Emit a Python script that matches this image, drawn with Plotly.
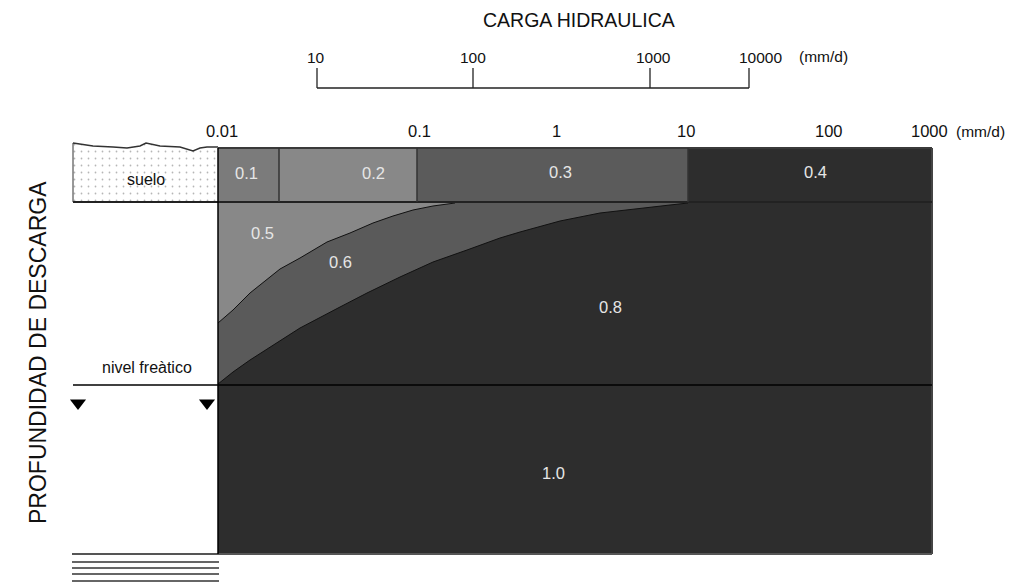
import plotly.graph_objects as go

# ---------------- data (diagram units = page pixels of the schematic) ----------------
TITLE_TOP = "CARGA HIDRAULICA"
TITLE_LEFT = "PROFUNDIDAD DE DESCARGA"
UNIT = "(mm/d)"

# upper hydraulic-load scale
UPPER_TICK_LABELS = ["10", "100", "1000", "10000"]
UPPER_TICK_X = [317, 473, 650, 749]
UPPER_LABEL_X = [316, 473, 653, 760]

# lower hydraulic-load scale
LOWER_TICK_LABELS = ["0.01", "0.1", "1", "10", "100", "1000"]
LOWER_TICK_X = [222, 419, 556, 686, 829, 929]

# soil-row zones (coefficients) and their boundaries
SOIL_ZONE_LABELS = ["0.1", "0.2", "0.3", "0.4"]
SOIL_ZONE_EDGES = [218, 279, 417, 688, 932]
SOIL_ZONE_COLORS = ["#7b7b7b", "#888888", "#5b5b5b", "#2d2d2d"]

# boundary between zones 0.5 and 0.6
CURVE_A_X = [218, 233, 250, 280, 300, 327, 350, 373, 393, 413, 433, 455]
CURVE_A_Y = [323, 310, 293, 269, 258, 242, 233, 223, 216, 210, 206, 203]

# boundary between zones 0.6 and 0.8
CURVE_B_X = [218, 233, 250, 267, 300, 340, 367, 400, 433, 467, 500, 520, 560, 600, 640, 670, 688]
CURVE_B_Y = [384, 372, 360, 349, 328, 307, 293, 277, 262, 250, 238, 232, 221, 213, 208, 205, 203]

# soil surface profile
SURFACE_X = [73, 80, 93, 113, 127, 140, 146, 160, 180, 193, 200, 207, 218]
SURFACE_Y = [143, 144, 146, 147, 148, 146, 143, 146, 147, 151, 148, 147, 147]

# zone labels
ZONE_LABELS = ["0.1", "0.2", "0.3", "0.4", "0.5", "0.6", "0.8", "1.0"]
ZONE_LABEL_X = [246, 373, 560, 815, 262, 340, 610, 553]
ZONE_LABEL_Y = [173, 173, 172, 172, 233, 262, 307, 473]

# geometry of the block
BOX_LEFT, BOX_RIGHT = 218, 932
BOX_TOP, SOIL_BOTTOM, WATER_TABLE, BOX_BOTTOM = 148, 202, 385, 554
SOIL_LEFT = 73
HATCH_Y = [562, 568, 574, 581]

FONT = "Arial, Liberation Sans, sans-serif"
DARK = "#2d2d2d"
MID = "#5a5a5a"
LIGHT = "#888888"
PAGE_OFFSET = 8  # default body margin of the html page

fig = go.Figure()

# deep zones (0.8 and 1.0)
fig.add_shape(type="rect", x0=BOX_LEFT, x1=BOX_RIGHT, y0=SOIL_BOTTOM, y1=BOX_BOTTOM,
              fillcolor=DARK, line_width=0, layer="below")

# soil-row zones
for i, c in enumerate(SOIL_ZONE_COLORS):
    fig.add_shape(type="rect", x0=SOIL_ZONE_EDGES[i], x1=SOIL_ZONE_EDGES[i + 1],
                  y0=BOX_TOP, y1=SOIL_BOTTOM, fillcolor=c, line_width=0, layer="below")

# zone 0.6 polygon
fig.add_trace(go.Scatter(
    x=CURVE_B_X + [CURVE_B_X[-1], BOX_LEFT], y=CURVE_B_Y + [SOIL_BOTTOM, SOIL_BOTTOM],
    fill="toself", fillcolor=MID, mode="lines", line=dict(width=0), hoverinfo="skip"))
# zone 0.5 polygon
fig.add_trace(go.Scatter(
    x=CURVE_A_X + [CURVE_A_X[-1], BOX_LEFT], y=CURVE_A_Y + [SOIL_BOTTOM, SOIL_BOTTOM],
    fill="toself", fillcolor=LIGHT, mode="lines", line=dict(width=0), hoverinfo="skip"))
# boundary curves
for cx, cy in [(CURVE_A_X, CURVE_A_Y), (CURVE_B_X, CURVE_B_Y)]:
    fig.add_trace(go.Scatter(x=cx, y=cy, mode="lines", line=dict(color="#111111", width=1),
                             hoverinfo="skip"))

# soil (suelo) dotted block
fig.add_trace(go.Scatter(
    x=SURFACE_X + [BOX_LEFT, SOIL_LEFT], y=SURFACE_Y + [SOIL_BOTTOM, SOIL_BOTTOM],
    fill="toself", fillcolor="white", mode="lines", line=dict(width=0), hoverinfo="skip",
    fillpattern=dict(shape=".", fgcolor="#6e6e6e", bgcolor="white", size=7, solidity=0.05)))
fig.add_trace(go.Scatter(x=SURFACE_X, y=SURFACE_Y, mode="lines",
                         line=dict(color="#333333", width=1.5), hoverinfo="skip"))

# water-table triangles
fig.add_trace(go.Scatter(x=[78, 207], y=[403, 403], mode="markers",
                         marker=dict(symbol="triangle-down", size=14, color="black"),
                         hoverinfo="skip"))

def hline(y, x0, x1, color, width):
    fig.add_shape(type="line", x0=x0, x1=x1, y0=y, y1=y, line=dict(color=color, width=width),
                  layer="above")

def vline(x, y0, y1, color, width):
    fig.add_shape(type="line", x0=x, x1=x, y0=y0, y1=y1, line=dict(color=color, width=width),
                  layer="above")

# borders
hline(BOX_TOP, BOX_LEFT, BOX_RIGHT, "#3a3a3a", 2)
vline(BOX_RIGHT, BOX_TOP, BOX_BOTTOM, "#444444", 2)
hline(BOX_BOTTOM, 72, BOX_RIGHT, "#555555", 2)
hline(SOIL_BOTTOM, SOIL_LEFT, BOX_RIGHT, "#222222", 2)
for xe in SOIL_ZONE_EDGES[1:-1]:
    vline(xe, BOX_TOP, SOIL_BOTTOM, "#333333", 1.5)
vline(BOX_LEFT, BOX_TOP, BOX_BOTTOM, "#000000", 1.5)
vline(SOIL_LEFT, SURFACE_Y[0], SOIL_BOTTOM, "#333333", 1)
hline(WATER_TABLE, SOIL_LEFT, BOX_RIGHT, "#000000", 1.5)
for yh in HATCH_Y:
    hline(yh, 72, 219, "#666666", 2)

# upper scale
hline(88, UPPER_TICK_X[0], UPPER_TICK_X[-1], "#222222", 1.3)
for xt in UPPER_TICK_X:
    vline(xt, 68, 88, "#222222", 1.3)

ann = []
def text(x, y, s, size, color="#111111", angle=0, xanchor="center"):
    ann.append(dict(x=x, y=y, xref="x", yref="y", text=s, showarrow=False, textangle=angle,
                    xanchor=xanchor, yanchor="middle",
                    font=dict(family=FONT, size=size, color=color)))

text(579, 20, TITLE_TOP, 19.5)
for lab, xt in zip(UPPER_TICK_LABELS, UPPER_LABEL_X):
    text(xt, 57, lab, 15.5)
text(797, 56, UNIT, 15.5, xanchor="left")
for lab, xt in zip(LOWER_TICK_LABELS, LOWER_TICK_X):
    text(xt, 131, lab, 16.5)
text(954, 131, UNIT, 15.5, xanchor="left")
for lab, xl, yl in zip(ZONE_LABELS, ZONE_LABEL_X, ZONE_LABEL_Y):
    text(xl, yl, lab, 16.5, color="#e6e6e6")
text(146, 179, "suelo", 16)
text(147, 367, "nivel freàtico", 16)
text(38, 353, TITLE_LEFT, 23, angle=-90)

W, H = 1015, 583
fig.update_layout(
    width=W, height=H, margin=dict(l=0, r=0, t=0, b=0),
    paper_bgcolor="white", plot_bgcolor="white", showlegend=False,
    annotations=ann,
    xaxis=dict(range=[PAGE_OFFSET, W + PAGE_OFFSET], visible=False, fixedrange=True),
    yaxis=dict(range=[H + PAGE_OFFSET, PAGE_OFFSET], visible=False, fixedrange=True),
)

fig.write_html("out.html")
